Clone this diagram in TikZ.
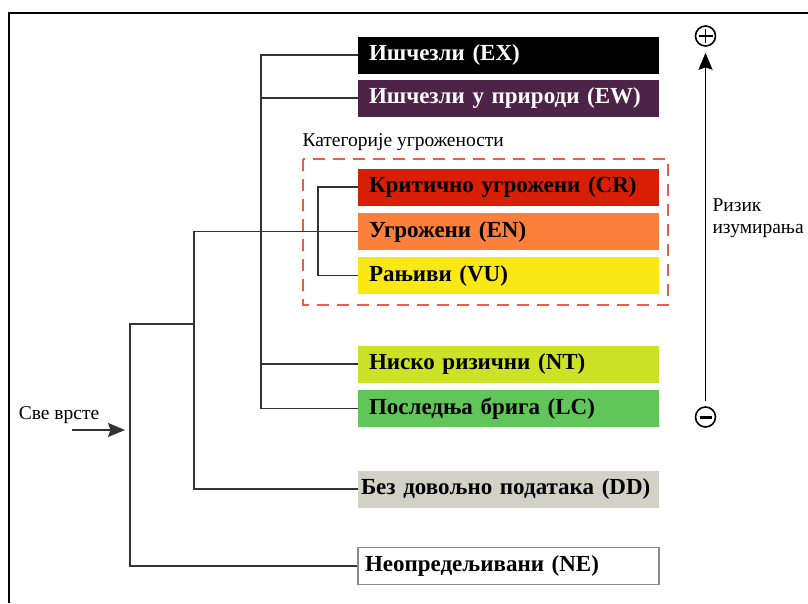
\documentclass[tikz,border=0pt]{standalone}
\usepackage{fontspec}
\setmainfont{Liberation Serif}
\usetikzlibrary{arrows.meta}

\definecolor{ewpurple}{HTML}{4E2348}
\definecolor{crred}{HTML}{D81E05}
\definecolor{enorange}{HTML}{FC7F3C}
\definecolor{vuyellow}{HTML}{F9E814}
\definecolor{ntlime}{HTML}{CCE226}
\definecolor{lcgreen}{HTML}{60C659}
\definecolor{ddgray}{HTML}{D1D1C6}
\definecolor{negray}{HTML}{8A8A8A}
\definecolor{treegray}{HTML}{333333}
\definecolor{threatred}{HTML}{EE5A4E}

\newcommand\catboxfont{\fontsize{23}{26}\selectfont\bfseries}
\newcommand\plainlabelfont{\fontsize{19.5}{22}\selectfont}

\tikzset{
  box/.style={rectangle, minimum height=37pt, minimum width=301pt,
    inner xsep=11pt, text width=279pt, align=left, font=\catboxfont},
  tree/.style={draw=treegray, line width=1.8pt},
  arrowtip/.style={-{Stealth[length=17pt,width=14pt,inset=2.5pt]}},
  threat/.style={draw=threatred, line width=1.6pt, dash pattern=on 12pt off 8pt},
  sign/.style={circle, draw, line width=1.6pt, minimum size=20pt, inner sep=0pt},
  plussign/.style={sign, path picture={
    \draw[line width=1.6pt] ([xshift=-7pt]path picture bounding box.center) -- ([xshift=7pt]path picture bounding box.center)
      ([yshift=-7pt]path picture bounding box.center) -- ([yshift=7pt]path picture bounding box.center);}},
  minussign/.style={sign, path picture={
    \draw[line width=3pt] ([xshift=-6pt]path picture bounding box.center) -- ([xshift=6pt]path picture bounding box.center);}},
}

\begin{document}
\begin{tikzpicture}[x=1pt, y=-1pt]
  \useasboundingbox (0,0) rectangle (808,603);
  \draw[line width=1.5pt] (9,603) -- (9,13) -- (808,13);

  \node[box, fill=black, text=white] (ex) at (508.5,55) {Ишчезли (EX)};
  \node[box, fill=ewpurple, text=white] (ew) at (508.5,98) {Ишчезли у природи (EW)};
  \node[box, fill=crred] (cr) at (508.5,187) {Критично угрожени (CR)};
  \node[box, fill=enorange] (en) at (508.5,231.5) {Угрожени (EN)};
  \node[box, fill=vuyellow] (vu) at (508.5,275.5) {Рањиви (VU)};
  \node[box, fill=ntlime] (nt) at (508.5,364) {Ниско ризични (NT)};
  \node[box, fill=lcgreen] (lc) at (508.5,408.5) {Последња брига (LC)};
  \node[box, fill=ddgray, inner xsep=3pt, text width=295pt] (dd) at (508.5,489) {Без довољно података (DD)};
  \node[box, draw=negray, line width=1.2pt, inner xsep=7pt, text width=287pt] (ne) at (508.5,566) {Неопредељивани (NE)};

  \node[anchor=west, font=\plainlabelfont] (threatlabel) at (299,142) {Категорије угрожености};
  \draw[threat] (303,159) rectangle (668,305);

  \node[font=\plainlabelfont] (all) at (59,415) {Све врсте};

  \coordinate (f1) at (130,324);
  \coordinate (f2) at (194,233);
  \coordinate (f3) at (261,55);
  \coordinate (f4) at (318,187);

  \draw[tree] (ne.west) -| (f1) -- (f1 -| f2);
  \draw[tree] (en.west) -- (en.west -| f2) |- (dd.west);
  \draw[tree] (ex.west) -- (ex.west -| f3) |- (lc.west);
  \draw[tree] (ew.west) -- (ew.west -| f3);
  \draw[tree] (nt.west) -- (nt.west -| f3);
  \draw[tree] (cr.west) -- (cr.west -| f4) |- (vu.west);

  \coordinate (in) at (72,430);
  \draw[arrowtip, tree] (in) -- ([xshift=-5pt]in -| f1);

  \node[plussign] (plus) at (705.5,36) {};
  \node[minussign] (minus) at (705.5,417) {};
  \draw[arrowtip, line width=1.6pt, shorten <=5pt, shorten >=6pt] (minus) -- (plus);
  \node[anchor=west, align=left, font=\plainlabelfont] (risk) at (709,218) {Ризик\\изумирања};
\end{tikzpicture}
\end{document}
